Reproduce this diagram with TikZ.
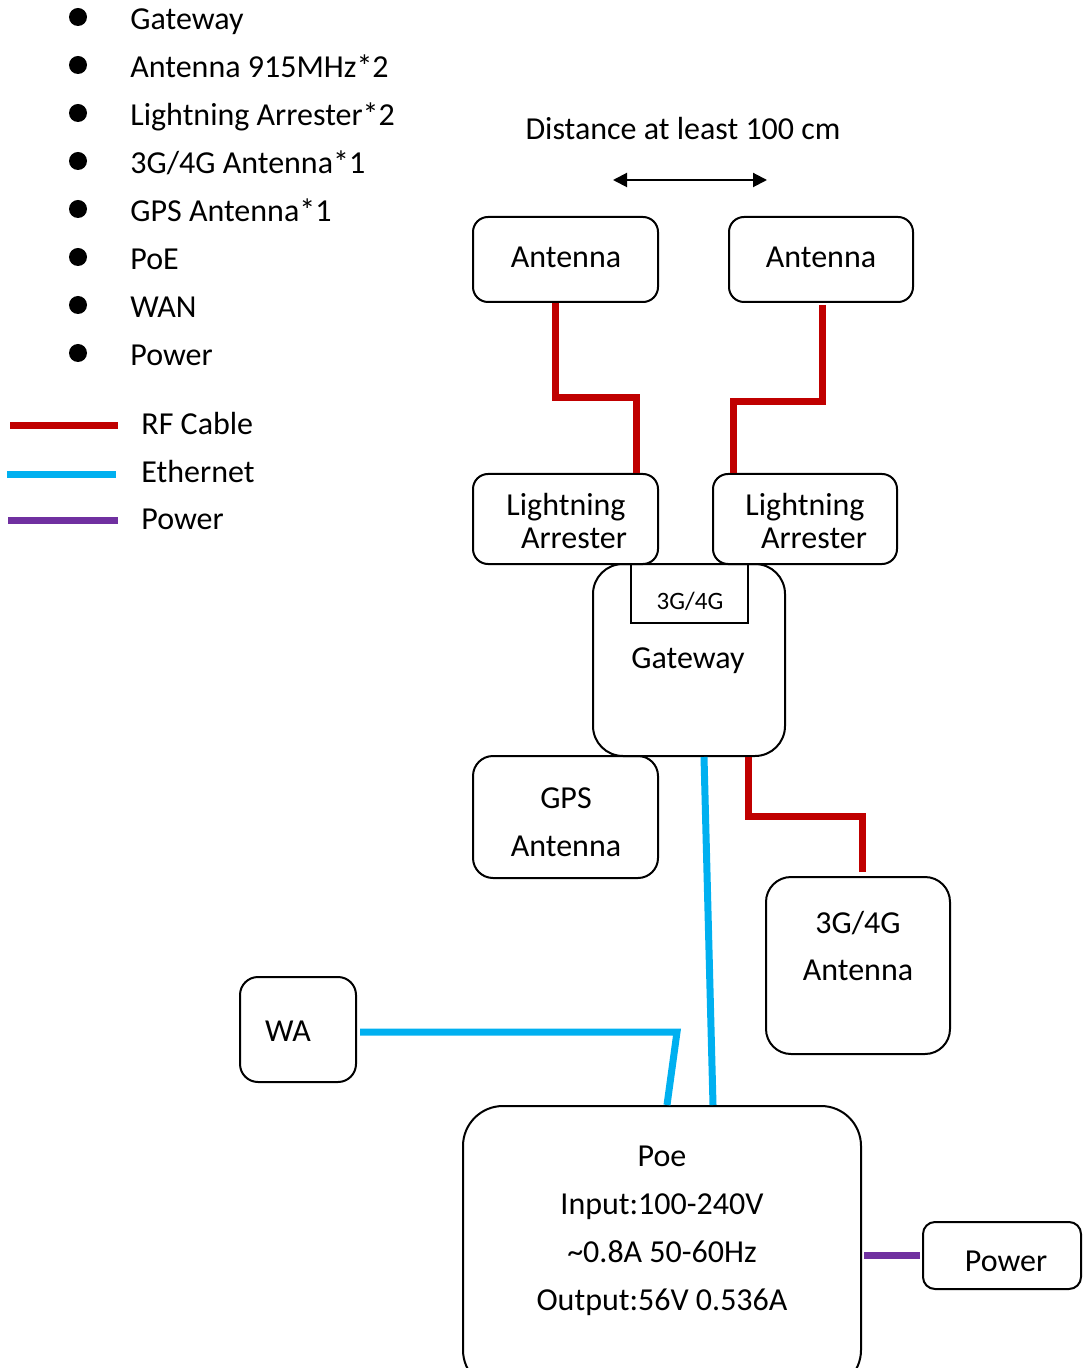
\documentclass[tikz,border=0pt]{standalone}
\usepackage{fontspec}
\setmainfont{Carlito}
\usetikzlibrary{arrows.meta,calc}
\definecolor{rfred}{HTML}{C00000}
\definecolor{ethblue}{HTML}{00B0F0}
\definecolor{pwrpurple}{HTML}{7030A0}
\begin{document}
\begin{tikzpicture}[x=0.5pt,y=-0.5pt,
  txt/.style={font=\fontsize{16}{24}\selectfont, inner sep=0pt, anchor=base},
  smalltxt/.style={font=\fontsize{12.5}{15}\selectfont, inner sep=0pt, anchor=base},
  ltxt/.style={txt, anchor=base west},
  box/.style={draw=black, line width=1pt, inner sep=0pt, rectangle},
  dot/.style={circle, fill=black, inner sep=0pt, minimum size=9pt},
  rf/.style={draw=rfred, line width=3.5pt, line join=miter},
  eth/.style={draw=ethblue, line width=3.5pt, line join=miter},
  pw/.style={draw=pwrpurple, line width=3.5pt},
]
\clip (0,0) rectangle (1083,1368);

% ---------- bullet list ----------
\foreach \t [count=\i] in {Gateway,Antenna 915MHz*2,Lightning Arrester*2,3G/4G Antenna*1,GPS Antenna*1,PoE,WAN,Power}{
  \pgfmathsetmacro\yy{17+48*(\i-1)}
  \node[dot] (bul\i) at (78,\yy) {};
  \node[ltxt] (item\i) at (130,\yy+12.5) {\t};
}

% ---------- legend ----------
\coordinate (rfa) at (10,426);  \coordinate (rfb) at (118,426);
\coordinate (etha) at (7,475);  \coordinate (ethb) at (116,475);
\coordinate (pwa) at (8,520);   \coordinate (pwb) at (118,520);
\draw[rf] (rfa) -- (rfb);
\draw[eth] (etha) -- (ethb);
\draw[pw] (pwa) -- (pwb);
\node[ltxt] (lgrf) at (141,435) {RF Cable};
\node[ltxt] (lgeth) at (141,483) {Ethernet};
\node[ltxt] (lgpw) at (141,530) {Power};

% ---------- distance ----------
\node[txt] (dist) at (683,140) {Distance at least 100 cm};
\coordinate (da1) at (613,180);
\coordinate (da2) at (767,180);
\draw[line width=1pt, {Triangle[length=7pt,width=7pt]}-{Triangle[length=7pt,width=7pt]}] (da1) -- (da2);

% ---------- boxes ----------
\node[box, rounded corners=7.5pt, minimum width=92.5pt, minimum height=42.5pt] (ant1) at (565.5,259.5) {};
\node[box, rounded corners=7.5pt, minimum width=92pt, minimum height=42.5pt] (ant2) at (821,259.5) {};
\node[box, rounded corners=7.5pt, minimum width=92.5pt, minimum height=45pt] (la1) at (565.5,519) {};
\node[box, rounded corners=7.5pt, minimum width=92pt, minimum height=45pt] (la2) at (805,519) {};
\node[box, rounded corners=15pt, minimum width=96pt, minimum height=96pt] (gw) at (689,660) {};
\node[box, minimum width=58.5pt, minimum height=29.5pt] (gwlte) at (689.5,593.5) {};
\node[box, rounded corners=10pt, minimum width=92.5pt, minimum height=61pt] (gps) at (565.5,817) {};
\node[box, rounded corners=12.5pt, minimum width=92pt, minimum height=88.5pt] (lte) at (858,965.5) {};
\node[box, rounded corners=9pt, minimum width=58pt, minimum height=52.5pt] (wa) at (298,1029.5) {};
\node[box, rounded corners=20pt, minimum width=199pt, minimum height=142pt] (poe) at (662,1248) {};
\node[box, rounded corners=6pt, minimum width=79pt, minimum height=33.5pt] (pwr) at (1002,1255.5) {};

% ---------- texts ----------
\node[txt] (tant1) at (566,268) {Antenna};
\node[txt] (tant2) at (821,268) {Antenna};
\node[txt] (tla1a) at (566,516) {Lightning};
\node[txt] (tla1b) at (574,548) {Arrester};
\node[txt] (tla2a) at (805,516) {Lightning};
\node[txt] (tla2b) at (814,548) {Arrester};
\node[smalltxt] (tgwlte) at (690,609) {3G/4G};
\node[txt] (tgw) at (688,668) {Gateway};
\node[txt] (tgpsa) at (566,808) {GPS};
\node[txt] (tgpsb) at (566,856) {Antenna};
\node[txt] (tltea) at (858,933) {3G/4G};
\node[txt] (tlteb) at (858,980) {Antenna};
\node[txt] (twa) at (288,1041) {WA};
\node[txt] (tpoe1) at (662,1166) {Poe};
\node[txt] (tpoe2) at (662,1214) {Input:100-240V};
\node[txt] (tpoe3) at (662,1262) {\textasciitilde 0.8A 50-60Hz};
\node[txt] (tpoe4) at (662,1310) {Output:56V 0.536A};
\node[txt] (tpwr) at (1006,1271) {Power};

% ---------- cables ----------
\draw[rf] ([xshift=-5.25pt]ant1.south) -- ++(0,95) -| ([xshift=35.25pt]la1.north);
\draw[rf] ([xshift=0.5pt,yshift=-1pt]ant2.south) -- ++(0,97) -| ([xshift=-36pt]la2.north);
\draw[rf] ([xshift=29.5pt]gw.south) -- ++(0,59) -| ([xshift=2pt,yshift=2pt]lte.north);
\draw[eth] ([xshift=7.5pt]gw.south) -- ([xshift=25.5pt]poe.north);
\coordinate (wabend) at (677,1032);
\draw[eth] ([xshift=1.5pt,yshift=-1.25pt]wa.east) -- (wabend) -- ([xshift=2.5pt]poe.north);
\draw[pw] ([xshift=1pt]poe.east |- pwr.west) -- ([xshift=-1pt]pwr.west);
\end{tikzpicture}
\end{document}
